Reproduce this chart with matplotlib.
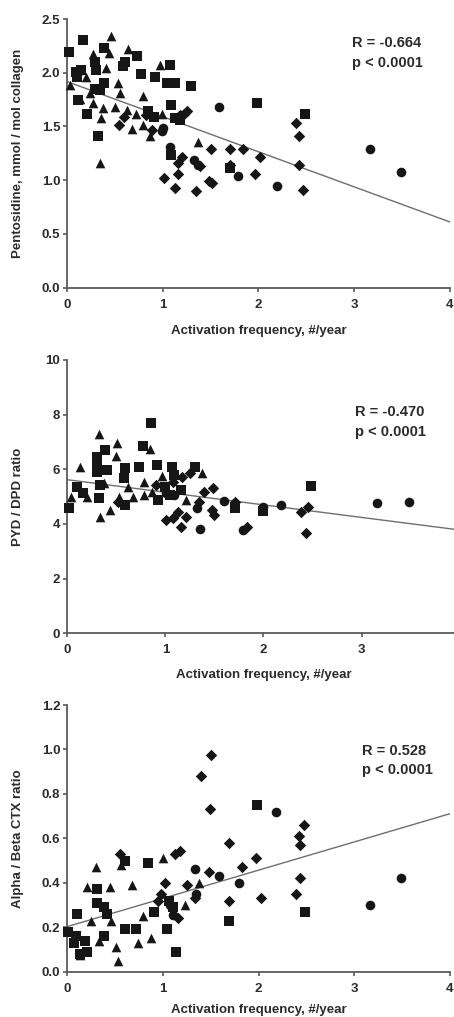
import numpy as np
import matplotlib
matplotlib.use("Agg")
import matplotlib.pyplot as plt
from matplotlib.transforms import blended_transform_factory

plt.rcParams["font.family"] = ["Liberation Sans", "DejaVu Sans"]
plt.rcParams["font.weight"] = "bold"

#########################################################
                # Data
#########################################################

# pentosidine vs activation frequency (one list pair per marker group)
pen_sq_x = [0.02, 0.16, 0.09, 0.14, 0.10, 0.11, 0.21, 0.29, 0.29, 0.30, 0.38, 0.38, 0.32, 0.34,
            0.60, 0.58, 0.73, 0.77, 0.84, 0.92, 1.07, 1.04, 1.13, 1.09, 1.09, 1.13, 1.18, 1.29,
            1.99, 2.49, 0.91, 1.70]
pen_sq_y = [2.19, 2.30, 2.01, 2.03, 1.96, 1.75, 1.62, 1.85, 2.10, 2.03, 2.23, 1.90, 1.41, 1.84,
            2.10, 2.06, 2.16, 1.99, 1.64, 1.96, 2.07, 1.90, 1.90, 1.70, 1.23, 1.58, 1.56, 1.88,
            1.72, 1.62, 1.59, 1.11]
pen_tri_x = [0.03, 0.46, 0.27, 0.44, 0.64, 0.12, 0.20, 0.24, 0.41, 0.53, 0.55, 0.50, 0.62, 0.79,
             0.34, 0.35, 0.37, 0.68, 0.79, 0.87, 0.97, 0.99, 1.37, 0.13, 0.27, 0.72]
pen_tri_y = [1.89, 2.34, 2.17, 2.18, 2.22, 2.03, 1.96, 1.81, 2.04, 1.90, 1.81, 1.68, 1.65, 1.78,
             1.16, 1.58, 1.67, 1.48, 1.51, 1.41, 2.07, 1.62, 1.36, 1.76, 1.72, 1.62]
pen_dia_x = [0.54, 0.59, 0.82, 0.89, 1.01, 1.13, 1.16, 1.16, 1.20, 1.22, 1.25, 1.35, 1.39, 1.50,
             1.48, 1.70, 1.70, 1.84, 1.96, 2.02, 2.39, 2.43, 2.43, 2.47, 1.51, 1.18]
pen_dia_y = [1.51, 1.59, 1.61, 1.47, 1.02, 0.93, 1.16, 1.06, 1.22, 1.62, 1.64, 0.90, 1.13, 1.29,
             0.99, 1.29, 1.14, 1.29, 1.06, 1.22, 1.53, 1.41, 1.14, 0.91, 0.97, 1.61]
pen_cir_x = [0.99, 1.08, 1.33, 1.37, 1.59, 1.79, 2.19, 3.17, 3.49, 1.00]
pen_cir_y = [1.46, 1.31, 1.19, 1.14, 1.68, 1.04, 0.95, 1.29, 1.08, 1.49]

# PYD / DPD ratio vs activation frequency
pyd_sq_x = [0.02, 0.85, 0.77, 0.30, 0.30, 0.38, 0.30, 0.40, 0.33, 0.32, 0.59, 0.58, 0.59, 0.73,
            0.91, 1.07, 1.09, 1.00, 1.05, 1.16, 1.30, 1.71, 1.99, 2.48, 0.92, 0.10, 0.16]
pyd_sq_y = [4.57, 7.68, 6.85, 6.46, 6.22, 6.71, 5.91, 5.98, 5.43, 4.94, 6.04, 5.67, 4.70, 6.10,
            6.16, 6.10, 5.79, 5.37, 5.06, 5.24, 6.10, 4.57, 4.48, 5.40, 4.88, 5.37, 5.12]
pyd_tri_x = [0.32, 0.51, 0.50, 0.84, 0.13, 0.04, 0.33, 0.44, 0.53, 0.62, 0.67, 0.78, 0.78, 0.97,
             1.21, 1.37, 0.37, 0.20, 0.86]
pyd_tri_y = [7.29, 6.95, 6.49, 6.73, 6.10, 5.00, 4.27, 4.51, 5.00, 5.37, 4.98, 5.55, 5.06, 5.76,
             4.88, 5.88, 5.49, 5.00, 5.18]
pyd_dia_x = [0.90, 1.01, 1.08, 1.13, 1.16, 1.21, 1.34, 1.39, 1.49, 1.48, 1.50, 1.71, 1.83, 2.43,
             2.38, 2.45, 1.08, 1.17, 1.25, 0.52]
pyd_dia_y = [5.43, 4.15, 4.21, 4.45, 3.90, 4.27, 4.82, 5.18, 5.30, 4.51, 4.33, 4.82, 3.88, 3.66,
             4.45, 4.63, 5.55, 5.73, 5.85, 4.82]
pyd_cir_x = [1.35, 1.60, 1.79, 1.99, 2.18, 3.16, 3.48, 1.32, 1.01, 1.09]
pyd_cir_y = [3.80, 4.84, 3.78, 4.63, 4.70, 4.76, 4.82, 4.57, 5.12, 5.06]

# alpha / beta CTX ratio vs activation frequency
ctx_sq_x = [0.01, 0.10, 0.31, 0.31, 0.38, 0.60, 0.60, 0.72, 0.84, 0.91, 1.04, 1.14, 1.69, 1.98,
            2.48, 0.09, 0.13, 0.21, 0.18, 0.07, 0.38, 0.41, 1.06, 1.11]
ctx_sq_y = [0.18, 0.26, 0.37, 0.31, 0.16, 0.50, 0.19, 0.19, 0.49, 0.27, 0.19, 0.09, 0.23, 0.75,
            0.27, 0.16, 0.08, 0.09, 0.14, 0.13, 0.29, 0.26, 0.32, 0.29]
ctx_tri_x = [0.30, 0.21, 0.45, 0.56, 0.68, 1.00, 0.25, 0.33, 0.51, 0.53, 0.74, 0.87, 1.38, 0.79,
             0.46, 0.13, 1.23]
ctx_tri_y = [0.47, 0.38, 0.38, 0.48, 0.39, 0.51, 0.23, 0.14, 0.11, 0.05, 0.13, 0.15, 0.40, 0.25,
             0.23, 0.075, 0.30]
ctx_dia_x = [0.55, 1.50, 1.40, 1.49, 1.13, 1.18, 1.69, 1.83, 1.97, 1.48, 1.02, 0.98, 1.25, 1.69,
             2.02, 2.39, 2.43, 2.43, 2.47, 2.42, 1.16, 1.33, 0.95]
ctx_dia_y = [0.53, 0.975, 0.88, 0.73, 0.53, 0.545, 0.58, 0.47, 0.51, 0.45, 0.40, 0.35, 0.39, 0.32,
             0.33, 0.35, 0.42, 0.57, 0.66, 0.61, 0.24, 0.33, 0.32]
ctx_cir_x = [1.33, 1.59, 1.79, 2.18, 3.16, 3.49, 1.35, 1.07, 1.11]
ctx_cir_y = [0.46, 0.43, 0.40, 0.72, 0.30, 0.42, 0.35, 0.30, 0.255]

# fitted line (intercept, slope) and statistics for each panel
fit_pen = (1.917, -0.326)
fit_pyd = (5.62, -0.46)
fit_ctx = (0.203, 0.127)
stats_pen = ("R = -0.664", "p < 0.0001")
stats_pyd = ("R = -0.470", "p < 0.0001")
stats_ctx = ("R = 0.528", "p < 0.0001")

xlabel = "Activation frequency, #/year"

#########################################################
                # Plotting
#########################################################

W, H = 454, 1017
fig = plt.figure(figsize=(W / 100, H / 100), dpi=100)

TXT = "#2b2b2b"
INK = "#161616"
AXC = "#5a5a5a"


def panel(rect, groups, fit, stat, stat_xy, ylim, yticks, yfmt, ylabel, xticks, xlab_gap):
    # rect in pixels: left, top (ylim max), right (x = 4), bottom (y = 0)
    l, t, r, b = rect
    ax = fig.add_axes([l / W, (H - b) / H, (r - l) / W, (b - t) / H])
    ax.set_xlim(0, 4)
    ax.set_ylim(*ylim)

    sq, tri, dia, cir = groups
    ax.scatter(*sq, marker="s", s=42, color=INK, lw=0, zorder=3, clip_on=False)
    ax.scatter(*tri, marker="^", s=48, color=INK, lw=0, zorder=3, clip_on=False)
    ax.scatter(*dia, marker="D", s=34, color=INK, lw=0, zorder=3, clip_on=False)
    ax.scatter(*cir, marker="o", s=48, color=INK, lw=0, zorder=3, clip_on=False)

    xs = np.array([0, 4])
    ax.plot(xs, fit[0] + fit[1] * xs, color="#6e6e6e", lw=1.0, zorder=2)

    ax.text(stat_xy[0], stat_xy[1], stat[0], fontsize=10.5, color=TXT, fontweight="bold",
            va="center", ha="left")
    ax.text(stat_xy[0], stat_xy[2], stat[1], fontsize=10.5, color=TXT, fontweight="bold",
            va="center", ha="left")

    for side in ["top", "right"]:
        ax.spines[side].set_visible(False)
    for side in ["left", "bottom"]:
        ax.spines[side].set_color(AXC)
        ax.spines[side].set_linewidth(1.3)

    ax.set_xticks(xticks)
    ax.set_yticks(yticks)
    ax.set_yticklabels([yfmt.format(v) for v in yticks])
    ax.tick_params(axis="both", colors=AXC, length=3, width=1.2, labelcolor=TXT,
                   labelsize=9.5)
    ax.tick_params(axis="x", pad=5)
    ax.tick_params(axis="y", pad=2)

    ax.set_ylabel(ylabel, fontsize=9.5, color=TXT, fontweight="bold")
    ax.yaxis.set_label_coords(-43 / (r - l), 0.5)
    ax.set_xlabel(xlabel, fontsize=9.5, color=TXT, fontweight="bold")
    ax.xaxis.set_label_coords(2.0, -xlab_gap / (b - t),
                              transform=blended_transform_factory(ax.transData, ax.transAxes))
    return ax


panel((67.3, 19, 449.5, 287.7),
      [(pen_sq_x, pen_sq_y), (pen_tri_x, pen_tri_y), (pen_dia_x, pen_dia_y), (pen_cir_x, pen_cir_y)],
      fit_pen, stats_pen, (2.98, 2.28, 2.09), (0, 2.5), [0, 0.5, 1.0, 1.5, 2.0, 2.5], "{:.1f}",
      "Pentosidine, mmol / mol collagen", [0, 1, 2, 3, 4], 37)

panel((67.3, 360, 459.7, 633.3),
      [(pyd_sq_x, pyd_sq_y), (pyd_tri_x, pyd_tri_y), (pyd_dia_x, pyd_dia_y), (pyd_cir_x, pyd_cir_y)],
      fit_pyd, stats_pyd, (2.93, 8.11, 7.38), (0, 10), [0, 2, 4, 6, 8, 10], "{:.0f}",
      "PYD / DPD ratio", [0, 1, 2, 3], 36)

panel((67.3, 705, 450, 971.7),
      [(ctx_sq_x, ctx_sq_y), (ctx_tri_x, ctx_tri_y), (ctx_dia_x, ctx_dia_y), (ctx_cir_x, ctx_cir_y)],
      fit_ctx, stats_ctx, (3.08, 0.995, 0.907), (0, 1.2), [0, 0.2, 0.4, 0.6, 0.8, 1.0, 1.2], "{:.1f}",
      "Alpha / Beta CTX ratio", [0, 1, 2, 3, 4], 32)

fig.savefig("out.png", dpi=100)
